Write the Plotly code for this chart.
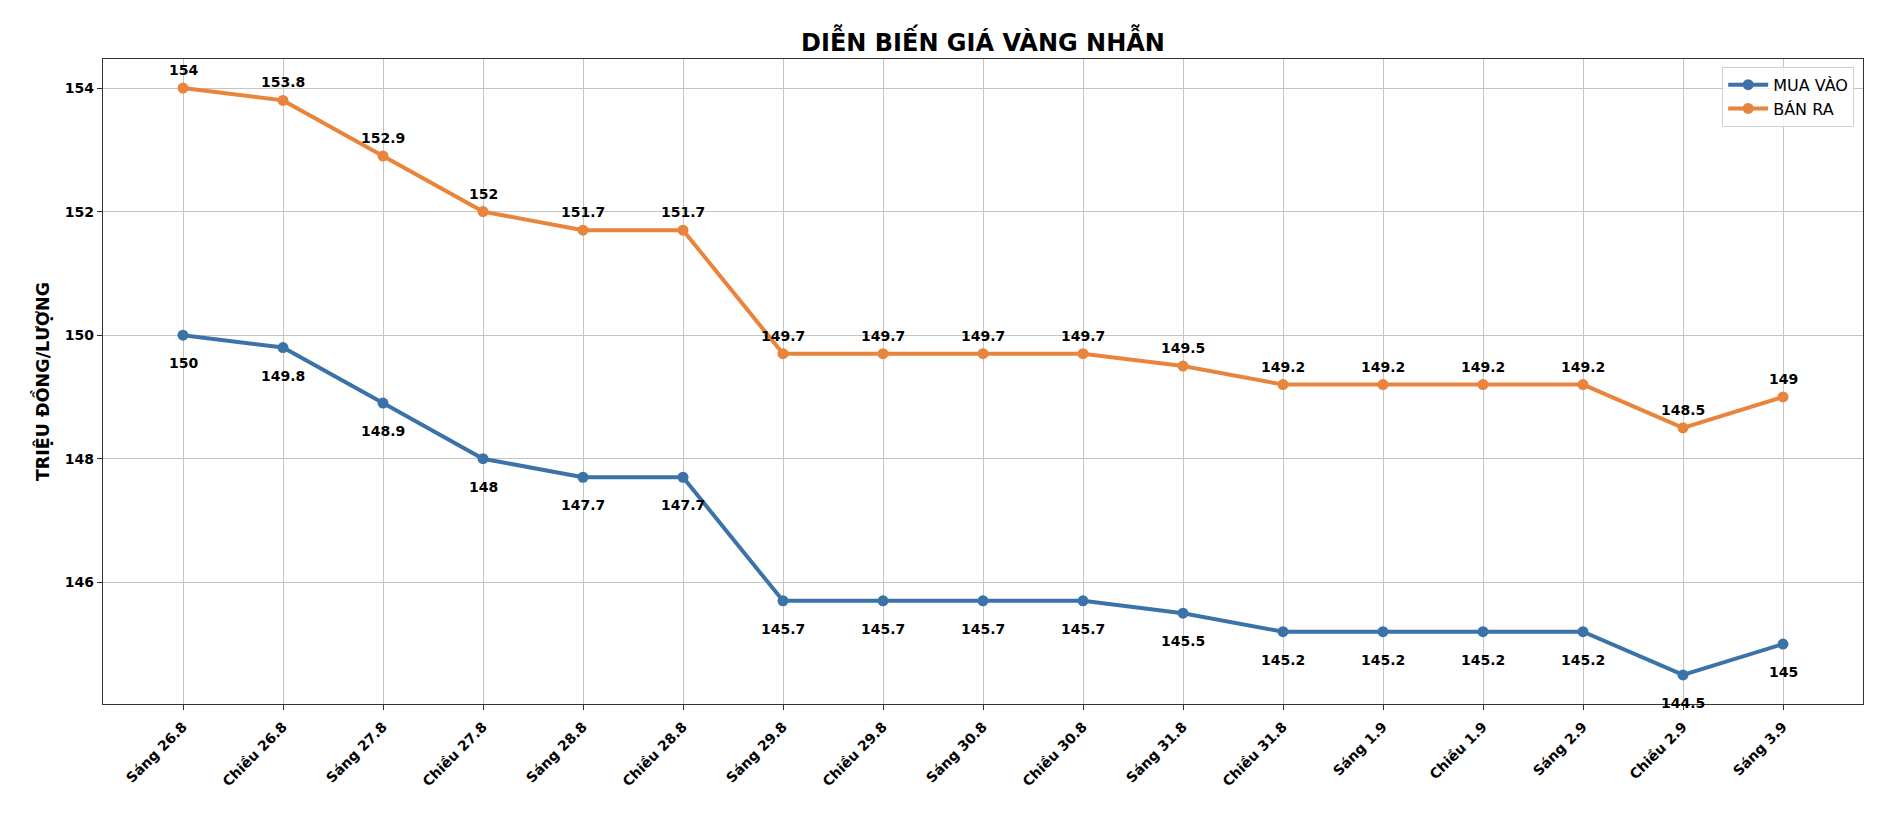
import plotly.graph_objects as go

categories = ["Sáng 26.8", "Chiều 26.8", "Sáng 27.8", "Chiều 27.8", "Sáng 28.8",
              "Chiều 28.8", "Sáng 29.8", "Chiều 29.8", "Sáng 30.8", "Chiều 30.8",
              "Sáng 31.8", "Chiều 31.8", "Sáng 1.9", "Chiều 1.9", "Sáng 2.9",
              "Chiều 2.9", "Sáng 3.9"]
mua_vao = [150, 149.8, 148.9, 148, 147.7, 147.7, 145.7, 145.7, 145.7, 145.7,
           145.5, 145.2, 145.2, 145.2, 145.2, 144.5, 145]
ban_ra = [154, 153.8, 152.9, 152, 151.7, 151.7, 149.7, 149.7, 149.7, 149.7,
          149.5, 149.2, 149.2, 149.2, 149.2, 148.5, 149]
y_ticks = [146, 148, 150, 152, 154]

BLUE = "#3b73a9"
ORANGE = "#e8843b"
FONT = "DejaVu Sans"

fig = go.Figure()
fig.add_trace(go.Scatter(x=categories, y=mua_vao, mode="lines+markers", name="MUA VÀO",
                         line=dict(color=BLUE, width=4),
                         marker=dict(color=BLUE, size=11)))
fig.add_trace(go.Scatter(x=categories, y=ban_ra, mode="lines+markers", name="BÁN RA",
                         line=dict(color=ORANGE, width=4),
                         marker=dict(color=ORANGE, size=11)))

annotations = []
for c, v in zip(categories, ban_ra):
    annotations.append(dict(x=c, y=v, text=f"<b>{v:g}</b>", showarrow=False,
                            yshift=18, font=dict(family=FONT, size=14, color="black")))
for c, v in zip(categories, mua_vao):
    annotations.append(dict(x=c, y=v, text=f"<b>{v:g}</b>", showarrow=False,
                            yshift=-28, font=dict(family=FONT, size=14, color="black")))

fig.update_layout(
    width=1886, height=822,
    margin=dict(l=103, r=23, t=59, b=118),
    paper_bgcolor="white", plot_bgcolor="white",
    font=dict(family=FONT, color="black"),
    title=dict(text="<b>DIỄN BIẾN GIÁ VÀNG NHẪN</b>", x=0.5, xref="paper",
               y=1 - 43 / 822, yref="container", yanchor="middle", xanchor="center",
               font=dict(family=FONT, size=24, color="black")),
    showlegend=True,
    legend=dict(x=0.995, y=0.988, xanchor="right", yanchor="top",
                bgcolor="rgba(255,255,255,0.8)", bordercolor="#d0d0d0", borderwidth=1,
                font=dict(family=FONT, size=16, color="black"), itemwidth=40),
    annotations=annotations,
)
fig.update_xaxes(
    type="category", range=[-0.8, 16.8], tickangle=-45,
    tickfont=dict(family=FONT, size=14, color="black", weight="bold"),
    ticklabelstandoff=3,
    showgrid=True, gridcolor="#c4c4c4", gridwidth=1,
    showline=True, linecolor="#333333", linewidth=1.3, mirror=True,
    ticks="outside", ticklen=5, tickcolor="#333333",
)
fig.update_yaxes(
    range=[144.03, 154.47], tickvals=y_ticks, ticktext=[str(t) for t in y_ticks],
    tickfont=dict(family=FONT, size=14, color="black", weight="bold"),
    title=dict(text="<b>TRIỆU ĐỒNG/LƯỢNG</b>", standoff=10,
               font=dict(family=FONT, size=17.5, color="black")),
    showgrid=True, gridcolor="#c4c4c4", gridwidth=1, zeroline=False,
    showline=True, linecolor="#333333", linewidth=1.3, mirror=True,
    ticks="outside", ticklen=5, tickcolor="#333333",
)

fig.write_html("out.html", config={"displayModeBar": False},
               post_script="document.body.style.margin='0';document.body.style.overflow='hidden';")
